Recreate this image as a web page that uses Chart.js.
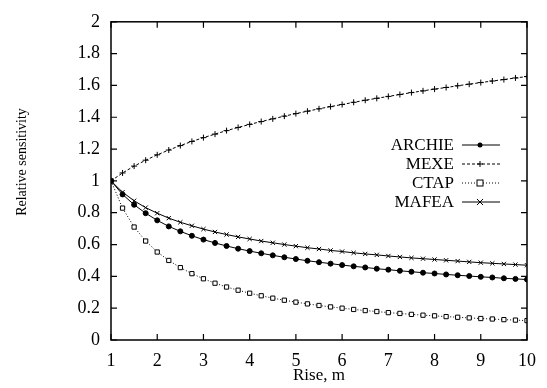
<!DOCTYPE html>
<html>
<head>
<meta charset="utf-8">
<script src="https://cdn.jsdelivr.net/npm/chart.js@4.4.0/dist/chart.umd.min.js"></script>
<style>
  html, body { margin: 0; padding: 0; background: #fff; }
  #wrap { width: 547px; height: 388px; }
</style>
</head>
<body>
<div id="wrap"><canvas id="chart" width="547" height="388"></canvas></div>
<script>
// Rise values (m), one point every 0.25 m
const rise = [1, 1.25, 1.5, 1.75, 2, 2.25, 2.5, 2.75, 3, 3.25, 3.5, 3.75, 4, 4.25, 4.5, 4.75,
    5, 5.25, 5.5, 5.75, 6, 6.25, 6.5, 6.75, 7, 7.25, 7.5, 7.75, 8, 8.25, 8.5, 8.75,
    9, 9.25, 9.5, 9.75, 10];

// Relative sensitivity
const archie = [1, 0.915, 0.85, 0.797, 0.752, 0.714, 0.683, 0.655, 0.631, 0.61, 0.591, 0.574, 0.559, 0.545, 0.532, 0.52,
    0.509, 0.498, 0.489, 0.48, 0.471, 0.463, 0.456, 0.448, 0.442, 0.435, 0.429, 0.423, 0.418, 0.412, 0.407, 0.402,
    0.397, 0.393, 0.388, 0.384, 0.38];
const mexe = [1, 1.05, 1.093, 1.13, 1.164, 1.194, 1.222, 1.248, 1.272, 1.294, 1.316, 1.336, 1.355, 1.373, 1.39, 1.407,
    1.423, 1.438, 1.453, 1.467, 1.48, 1.494, 1.507, 1.519, 1.531, 1.543, 1.555, 1.566, 1.577, 1.587, 1.598, 1.608,
    1.618, 1.628, 1.637, 1.647, 1.656];
const ctap = [1, 0.829, 0.71, 0.622, 0.553, 0.5, 0.455, 0.417, 0.385, 0.357, 0.333, 0.313, 0.294, 0.278, 0.263, 0.25,
    0.238, 0.227, 0.217, 0.208, 0.2, 0.192, 0.185, 0.179, 0.172, 0.167, 0.161, 0.156, 0.152, 0.147, 0.143, 0.139,
    0.135, 0.132, 0.128, 0.125, 0.122];
const mafea = [1, 0.929, 0.875, 0.832, 0.797, 0.766, 0.74, 0.718, 0.697, 0.679, 0.663, 0.648, 0.635, 0.622, 0.611, 0.6,
    0.59, 0.58, 0.572, 0.563, 0.556, 0.548, 0.541, 0.535, 0.528, 0.522, 0.516, 0.511, 0.506, 0.501, 0.496, 0.491,
    0.486, 0.482, 0.478, 0.474, 0.47];

const seriesNames = ['ARCHIE', 'MEXE', 'CTAP', 'MAFEA'];
const xTickValues = [1, 2, 3, 4, 5, 6, 7, 8, 9, 10];

const serif = 'Liberation Serif, Times New Roman, serif';

function toPoints(ys) {
    return rise.map((x, i) => ({ x: x, y: ys[i] }));
}

// Draw a marker by style
function drawMarker(ctx, style, x, y, r) {
    ctx.beginPath();
    if (style === 'circle') {
        ctx.arc(x, y, r, 0, Math.PI * 2);
        ctx.fillStyle = '#000';
        ctx.fill();
    } else if (style === 'cross') {
        ctx.moveTo(x - r, y); ctx.lineTo(x + r, y);
        ctx.moveTo(x, y - r); ctx.lineTo(x, y + r);
        ctx.stroke();
    } else if (style === 'crossRot') {
        ctx.moveTo(x - r, y - r); ctx.lineTo(x + r, y + r);
        ctx.moveTo(x - r, y + r); ctx.lineTo(x + r, y - r);
        ctx.stroke();
    } else if (style === 'rect') {
        ctx.fillStyle = '#fff';
        ctx.fillRect(x - r, y - r, 2 * r, 2 * r);
        ctx.strokeRect(x - r, y - r, 2 * r, 2 * r);
    }
}

// Frame, inward ticks, y title and legend
const framePlugin = {
    id: 'frame',
    afterDraw(chart) {
        const ctx = chart.ctx;
        const a = chart.chartArea;
        const xs = chart.scales.x, ys = chart.scales.y;
        ctx.save();
        ctx.strokeStyle = '#000';
        ctx.lineWidth = 1.5;
        ctx.setLineDash([]);
        ctx.strokeRect(a.left, a.top, a.right - a.left, a.bottom - a.top);

        ctx.lineWidth = 1.2;
        const tl = 6;
        ctx.beginPath();
        xTickValues.forEach(v => {
            const px = xs.getPixelForValue(v);
            ctx.moveTo(px, a.bottom); ctx.lineTo(px, a.bottom - tl);
            ctx.moveTo(px, a.top); ctx.lineTo(px, a.top + tl);
        });
        ys.ticks.forEach(t => {
            const py = ys.getPixelForValue(t.value);
            ctx.moveTo(a.left, py); ctx.lineTo(a.left + tl, py);
            ctx.moveTo(a.right, py); ctx.lineTo(a.right - tl, py);
        });
        ctx.stroke();

        // y axis title
        ctx.fillStyle = '#000';
        ctx.font = '14px ' + serif;
        ctx.textAlign = 'center';
        ctx.textBaseline = 'middle';
        ctx.translate(22, 162);
        ctx.rotate(-Math.PI / 2);
        ctx.fillText('Relative sensitivity', 0, 0);
        ctx.restore();

        // legend
        ctx.save();
        const rows = [145, 164, 183, 202];
        chart.data.datasets.forEach((ds, i) => {
            const y = rows[i];
            ctx.fillStyle = '#000';
            ctx.font = '17px ' + serif;
            ctx.textAlign = 'right';
            ctx.textBaseline = 'middle';
            ctx.fillText(ds.label, 454, y + 1);
            ctx.strokeStyle = '#000';
            ctx.lineWidth = 1;
            ctx.setLineDash(ds.borderDash || []);
            ctx.beginPath();
            ctx.moveTo(462, y); ctx.lineTo(500, y);
            ctx.stroke();
            ctx.setLineDash([]);
            drawMarker(ctx, ds.pointStyle, 480, y, ds.pointRadius);
        });
        ctx.restore();
    }
};

const common = {
    borderColor: '#000',
    pointBorderColor: '#000',
    borderWidth: 1,
    pointBorderWidth: 1,
    tension: 0,
    fill: false
};

new Chart(document.getElementById('chart').getContext('2d'), {
    type: 'line',
    data: {
        datasets: [
            Object.assign({}, common, {
                label: seriesNames[0], data: toPoints(archie),
                pointStyle: 'circle', pointRadius: 2.5, pointBackgroundColor: '#000'
            }),
            Object.assign({}, common, {
                label: seriesNames[1], data: toPoints(mexe), borderDash: [3, 2],
                pointStyle: 'cross', pointRadius: 3, pointBackgroundColor: '#000'
            }),
            Object.assign({}, common, {
                label: seriesNames[2], data: toPoints(ctap), borderDash: [1, 2],
                pointStyle: 'rect', pointRadius: 3, pointBackgroundColor: '#fff'
            }),
            Object.assign({}, common, {
                label: seriesNames[3], data: toPoints(mafea),
                pointStyle: 'crossRot', pointRadius: 3, pointBackgroundColor: '#000'
            })
        ]
    },
    options: {
        responsive: false,
        animation: false,
        layout: { padding: { top: 15, right: 20, left: 0, bottom: 0 } },
        plugins: {
            legend: { display: false },
            tooltip: { enabled: false }
        },
        scales: {
            x: {
                type: 'linear',
                min: 1,
                max: 10,
                grid: { display: false, drawTicks: false },
                border: { display: false },
                ticks: {
                    stepSize: 1,
                    padding: 10,
                    color: '#000',
                    font: { family: serif, size: 18 }
                },
                title: {
                    display: true,
                    text: 'Rise, m',
                    color: '#000',
                    padding: { top: 0, bottom: 2 },
                    font: { family: serif, size: 17 }
                },
                afterFit(scale) { scale.height = 48; }
            },
            y: {
                min: 0,
                max: 2,
                grid: { display: false, drawTicks: false },
                border: { display: false },
                ticks: {
                    stepSize: 0.2,
                    padding: 11,
                    color: '#000',
                    font: { family: serif, size: 18 },
                    // gnuplot style: 0, 0.2, ... 1, ... 2
                    callback: v => String(Math.round(v * 10) / 10)
                },
                afterFit(scale) { scale.width = 111; }
            }
        }
    },
    plugins: [framePlugin]
});
</script>
</body>
</html>
